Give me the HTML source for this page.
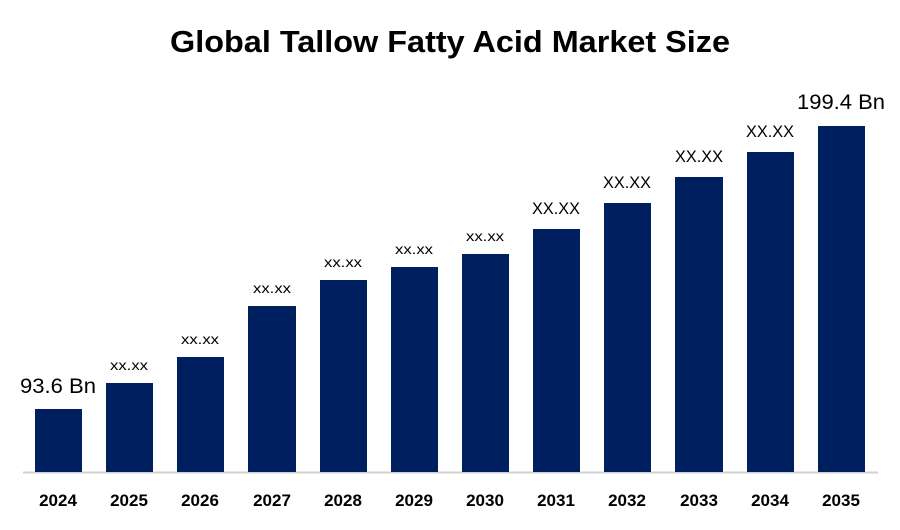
<!DOCTYPE html>
<html><head><style>
body{margin:0;background:#fff;}
svg text{font-family:"Liberation Sans",Arial,sans-serif;}
</style></head><body>
<svg width="900" height="525" viewBox="0 0 900 525">
<text x="450" y="52" text-anchor="middle" font-size="31" font-weight="bold" fill="#000" textLength="560" lengthAdjust="spacingAndGlyphs">Global Tallow Fatty Acid Market Size</text>
<line x1="23" y1="472.5" x2="878" y2="472.5" stroke="#d0d0d0" stroke-width="2"/>
<g fill="#001f5f">
<rect x="35" y="409" width="47" height="63"/>
<rect x="106" y="383" width="47" height="89"/>
<rect x="177" y="357" width="47" height="115"/>
<rect x="248" y="306" width="48" height="166"/>
<rect x="320" y="280" width="47" height="192"/>
<rect x="391" y="267" width="47" height="205"/>
<rect x="462" y="254" width="47" height="218"/>
<rect x="533" y="229" width="47" height="243"/>
<rect x="604" y="203" width="47" height="269"/>
<rect x="675" y="177" width="48" height="295"/>
<rect x="747" y="152" width="47" height="320"/>
<rect x="818" y="126" width="47" height="346"/>
</g>
<g font-size="21" text-anchor="middle" fill="#000">
<text x="58" y="393" textLength="76" lengthAdjust="spacingAndGlyphs">93.6 Bn</text>
<text x="841" y="109" textLength="88" lengthAdjust="spacingAndGlyphs">199.4 Bn</text>
</g>
<g font-size="14" text-anchor="middle" fill="#000">
<text x="129" y="370" textLength="38" lengthAdjust="spacingAndGlyphs">xx.xx</text>
<text x="200" y="344" textLength="38" lengthAdjust="spacingAndGlyphs">xx.xx</text>
<text x="272" y="293" textLength="38" lengthAdjust="spacingAndGlyphs">xx.xx</text>
<text x="343" y="267" textLength="38" lengthAdjust="spacingAndGlyphs">xx.xx</text>
<text x="414" y="254" textLength="38" lengthAdjust="spacingAndGlyphs">xx.xx</text>
<text x="485" y="241" textLength="38" lengthAdjust="spacingAndGlyphs">xx.xx</text>
</g>
<g font-size="17" text-anchor="middle" fill="#000">
<text x="556" y="214" textLength="48" lengthAdjust="spacingAndGlyphs">XX.XX</text>
<text x="627" y="188" textLength="48" lengthAdjust="spacingAndGlyphs">XX.XX</text>
<text x="699" y="162" textLength="48" lengthAdjust="spacingAndGlyphs">XX.XX</text>
<text x="770" y="137" textLength="48" lengthAdjust="spacingAndGlyphs">XX.XX</text>
</g>
<g font-size="17" font-weight="bold" text-anchor="middle" fill="#000">
<text x="58" y="506">2024</text>
<text x="129" y="506">2025</text>
<text x="200" y="506">2026</text>
<text x="272" y="506">2027</text>
<text x="343" y="506">2028</text>
<text x="414" y="506">2029</text>
<text x="485" y="506">2030</text>
<text x="556" y="506">2031</text>
<text x="627" y="506">2032</text>
<text x="699" y="506">2033</text>
<text x="770" y="506">2034</text>
<text x="841" y="506">2035</text>
</g>
</svg>
</body></html>
